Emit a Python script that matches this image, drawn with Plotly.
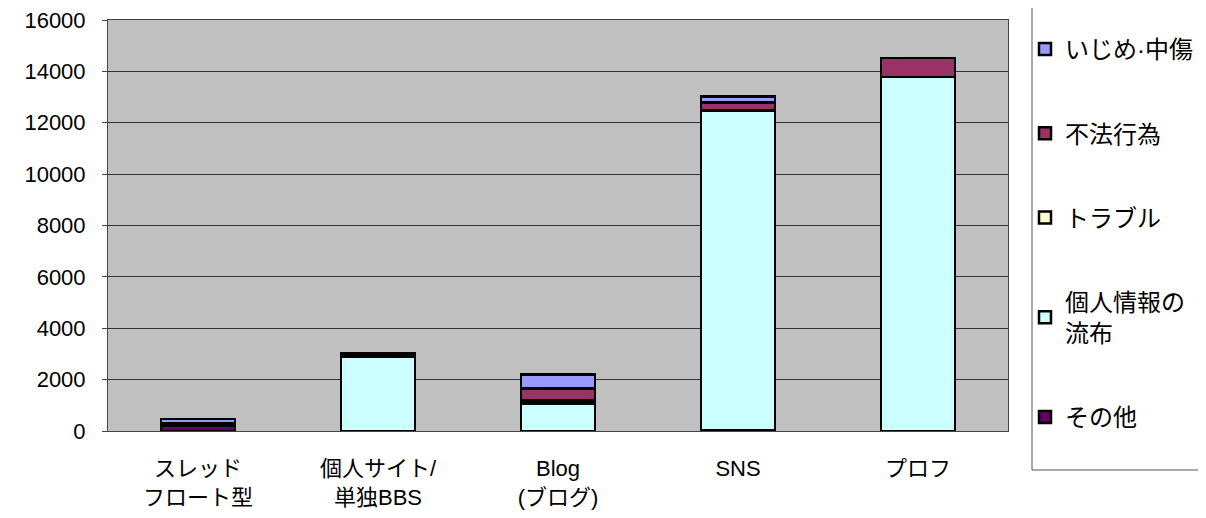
import plotly.graph_objects as go

categories = ["スレッド<br>フロート型", "個人サイト/<br>単独BBS", "Blog<br>(ブログ)", "SNS", "プロフ"]
sonota = [200, 0, 0, 20, 0]            # その他
kojin = [0, 2900, 1070, 12430, 13780]  # 個人情報の流布
trouble = [0, 0, 110, 30, 0]           # トラブル
fuhou = [90, 70, 480, 300, 740]        # 不法行為
ijime = [180, 40, 530, 250, 0]         # いじめ・中傷

series = [
    ("その他", sonota, "#660066"),
    ("個人情報の<br>流布", kojin, "#CCFFFF"),
    ("トラブル", trouble, "#FFFFCC"),
    ("不法行為", fuhou, "#993366"),
    ("いじめ·中傷", ijime, "#9999FF"),
]

FONT = "Liberation Sans, Noto Sans CJK JP, Arial, sans-serif"

fig = go.Figure()
n = len(series)
for i, (name, vals, col) in enumerate(series):
    fig.add_trace(go.Bar(
        x=categories, y=vals, name=name, legendgroup=str(i),
        legendrank=100 * (n - i),
        marker=dict(color=col, line=dict(color="black", width=2.5)),
        width=0.41,
    ))

# legend frame (page offset of 8px accounted for)
fig.add_shape(type="rect", xref="paper", yref="paper",
              x0=(1024 - 100) / 900, x1=(1195 - 100) / 900,
              y0=1 - (462 - 12) / 411, y1=1 + 12 / 411 + 0.01,
              line=dict(color="#555555", width=1), fillcolor="rgba(0,0,0,0)")

fig.update_layout(
    barmode="stack",
    width=1206, height=518,
    margin=dict(l=100, r=206, t=12, b=95, autoexpand=False),
    paper_bgcolor="white",
    plot_bgcolor="#C0C0C0",
    font=dict(family=FONT, size=20, color="black"),
    showlegend=True,
    legend=dict(
        x=(1017 - 100) / 900, y=1 - (19 - 12) / 411, xanchor="left", yanchor="top",
        traceorder="grouped", tracegroupgap=50,
        borderwidth=0, bgcolor="rgba(0,0,0,0)",
        font=dict(family=FONT, size=24),
        itemwidth=30, maxheight=500,
    ),
    xaxis=dict(
        showline=True, linecolor="#444444", linewidth=1, mirror=True,
        tickfont=dict(size=22), ticks="", showgrid=False,
        ticklabelstandoff=18,
    ),
    yaxis=dict(
        range=[0, 16000], dtick=2000, tickformat="d",
        showgrid=True, gridcolor="#333333", gridwidth=1,
        showline=True, linecolor="#444444", linewidth=1, mirror=True,
        ticks="outside", ticklen=5, tickcolor="#444444",
        zeroline=False, tickfont=dict(size=22), ticklabelstandoff=12,
        ticklabeloverflow="allow",
    ),
)

fig.write_html("out.html")
